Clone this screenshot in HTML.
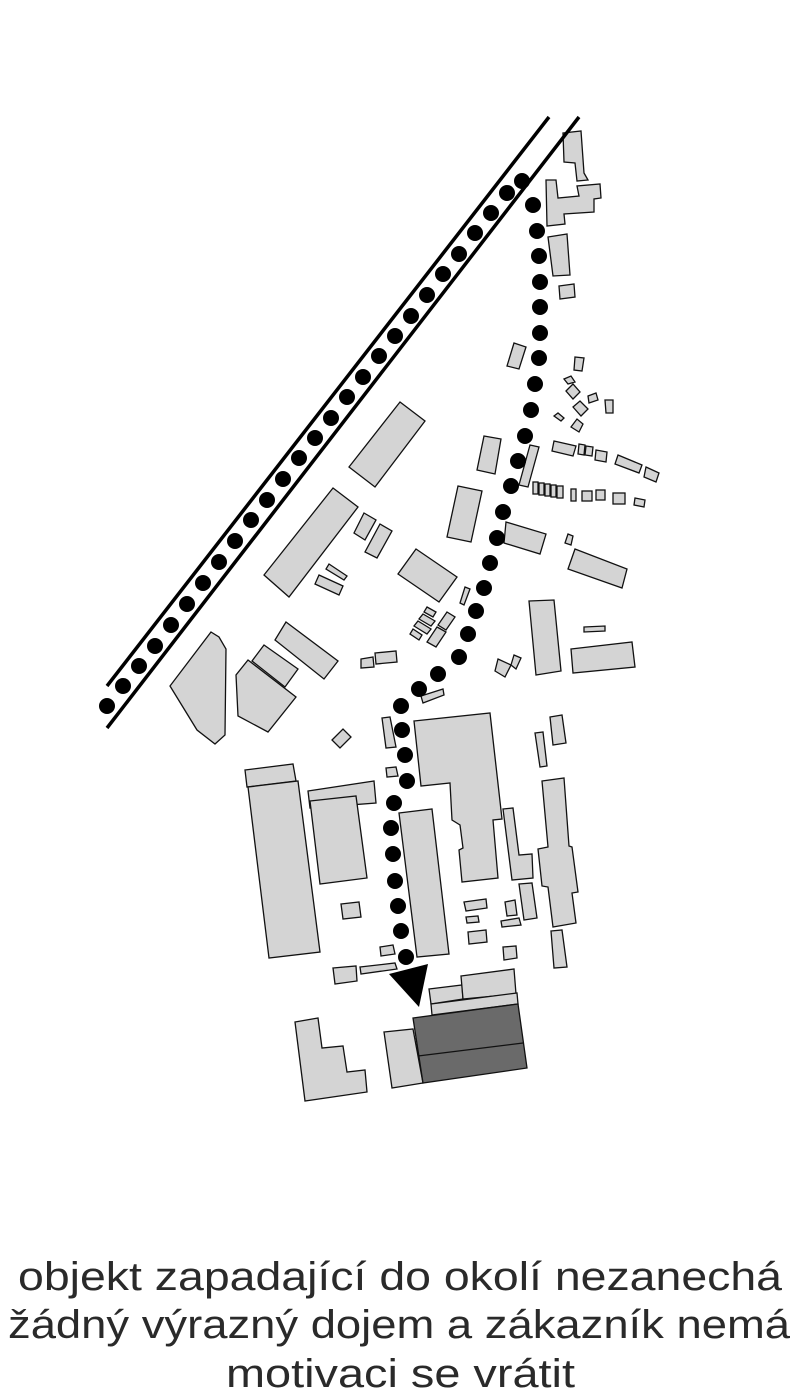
<!DOCTYPE html>
<html><head><meta charset="utf-8"><style>
html,body{margin:0;padding:0;background:#fff;}
svg{display:block;}
</style></head><body>
<svg width="800" height="1397" viewBox="0 0 800 1397" xmlns="http://www.w3.org/2000/svg">
<g fill="#d4d4d4" stroke="#111" stroke-width="1.3" stroke-linejoin="miter">
<polygon points="563,133 581,131 584,173 588,180 577,181 575,163 564,162"/>
<polygon points="546,180 556,180 558,198 579,196 577,186 600,184 601,198 594,199 594,212 564,214 565,224 547,226"/>
<polygon points="548,237 567,234 570,275 553,276"/>
<polygon points="559,286 574,284 575,297 560,299"/>
<polygon points="514,343 526,347 519,369 507,366"/>
<polygon points="575,357 584,358 582,371 574,370"/>
<polygon points="564,379 571,376 575,382 568,384"/>
<polygon points="566,391 573,384 580,392 573,399"/>
<polygon points="588,396 596,393 598,400 589,403"/>
<polygon points="605,400 613,400 613,413 606,413"/>
<polygon points="573,407 580,401 588,409 581,416"/>
<polygon points="554,416 558,413 564,418 561,421"/>
<polygon points="571,427 577,419 583,424 579,432"/>
<polygon points="400,402 425,421 375,487 349,467"/>
<polygon points="484,436 501,439 495,474 477,470"/>
<polygon points="530,445 539,447 528,487 519,485"/>
<polygon points="554,441 576,446 573,456 552,451"/>
<polygon points="579,444 585,445 584,455 578,454"/>
<polygon points="586,446 593,447 592,456 585,455"/>
<polygon points="596,450 607,452 606,462 595,460"/>
<polygon points="618,455 642,465 639,473 615,464"/>
<polygon points="646,467 659,473 656,482 644,477"/>
<rect x="533" y="482" width="5" height="12"/><rect x="539" y="483" width="5" height="12"/><rect x="545" y="484" width="5" height="12"/><rect x="551" y="485" width="5" height="12"/><rect x="557" y="486" width="6" height="12"/>
<rect x="571" y="489" width="5" height="12"/>
<rect x="582" y="491" width="10" height="10"/>
<rect x="596" y="490" width="9" height="10"/>
<rect x="613" y="493" width="12" height="11"/>
<polygon points="635,498 645,500 644,507 634,505"/>
<polygon points="458,486 482,491 471,542 447,537"/>
<polygon points="506,522 546,534 540,554 504,543"/>
<polygon points="568,534 573,536 571,545 565,543"/>
<polygon points="575,549 627,569 622,588 568,569"/>
<polygon points="333,488 358,507 289,597 264,575"/>
<polygon points="364,513 376,520 365,540 354,533"/>
<polygon points="380,524 392,531 377,558 365,552"/>
<polygon points="329,564 347,576 344,580 326,569"/>
<polygon points="319,575 343,586 339,595 315,584"/>
<polygon points="416,549 457,577 439,602 398,574"/>
<polygon points="465,587 470,589 464,605 460,603"/>
<polygon points="427,607 436,612 433,617 424,612"/>
<polygon points="423,614 435,621 431,626 419,619"/>
<polygon points="418,621 431,629 427,634 414,626"/>
<polygon points="413,629 422,635 419,640 410,634"/>
<polygon points="447,612 455,617 446,630 438,625"/>
<polygon points="437,627 446,632 436,647 427,642"/>
<polygon points="529,601 554,600 561,671 536,675"/>
<polygon points="584,627 605,626 605,631 584,632"/>
<polygon points="571,649 632,642 635,667 573,673"/>
<polygon points="498,659 511,665 505,677 495,671"/>
<polygon points="514,655 521,658 516,669 511,665"/>
<polygon points="375,653 396,651 397,662 376,664"/>
<polygon points="361,659 373,657 374,667 361,668"/>
<polygon points="421,696 443,689 444,695 423,703"/>
<polygon points="286,622 338,661 324,679 275,640"/>
<polygon points="264,645 298,669 285,687 252,661"/>
<polygon points="248,660 296,697 268,732 238,716 236,675"/>
<polygon points="211,632 219,637 226,649 225,735 215,744 197,730 170,686"/>
<polygon points="332,740 343,729 351,737 340,748"/>
<polygon points="382,718 390,717 396,747 386,748"/>
<polygon points="386,768 396,767 398,776 387,777"/>
<polygon points="414,721 490,713 502,819 493,820 498,878 462,882 459,850 463,848 460,825 452,820 450,783 421,786"/>
<polygon points="503,809 513,808 519,855 532,854 533,878 512,880"/>
<polygon points="535,733 543,732 547,766 540,767"/>
<polygon points="550,717 562,715 566,743 553,745"/>
<polygon points="542,781 564,778 569,846 572,847 578,892 572,893 576,923 553,927 548,887 542,886 538,849 548,847"/>
<polygon points="519,884 532,883 537,918 524,920"/>
<polygon points="551,931 562,930 567,967 554,968"/>
<polygon points="245,770 293,764 296,781 247,787"/>
<polygon points="248,787 298,781 320,952 269,958"/>
<polygon points="308,791 374,781 376,803 310,808"/>
<polygon points="310,801 356,796 367,878 320,884"/>
<polygon points="341,904 359,902 361,917 343,919"/>
<polygon points="399,813 432,809 449,954 417,957"/>
<polygon points="464,902 486,899 487,908 466,911"/>
<polygon points="466,917 478,916 479,922 467,923"/>
<polygon points="468,932 486,930 487,942 469,944"/>
<polygon points="505,902 515,900 517,915 507,916"/>
<polygon points="501,921 519,918 521,925 502,927"/>
<polygon points="503,947 516,946 517,958 504,960"/>
<polygon points="380,947 393,945 395,954 381,956"/>
<polygon points="333,968 356,966 357,981 335,984"/>
<polygon points="360,967 395,963 397,969 361,974"/>
<polygon points="429,989 462,985 463,999 431,1004"/>
<polygon points="461,976 514,969 516,994 463,999"/>
<polygon points="431,1004 517,993 518,1004 432,1015"/>
<polygon points="384,1032 413,1029 423,1083 392,1088"/>
<polygon points="295,1022 318,1018 322,1048 343,1046 347,1072 365,1070 367,1092 305,1101"/>
<polygon points="413,1018 518,1004 527,1068 423,1083" fill="#6a6a6a"/>
<line x1="418" y1="1056" x2="523" y2="1043"/>
</g>
<g stroke="#000" stroke-width="3.5">
<line x1="549" y1="117" x2="107" y2="686"/>
<line x1="579" y1="117" x2="107" y2="728"/>
</g>
<polygon points="389,974 428,964 419,1007" fill="#000"/>
<g font-family="'Liberation Sans', 'DejaVu Sans', sans-serif" font-size="40" fill="#2a2a2a" font-weight="normal">
<text x="18" y="1290" textLength="764" lengthAdjust="spacingAndGlyphs">objekt zapadající do okolí nezanechá</text>
<text x="8" y="1338" textLength="782" lengthAdjust="spacingAndGlyphs">žádný výrazný dojem a zákazník nemá</text>
<text x="226" y="1387" textLength="349" lengthAdjust="spacingAndGlyphs">motivaci se vrátit</text>
</g>
<g fill="#000">
<circle cx="107" cy="706" r="8"/><circle cx="123" cy="686" r="8"/><circle cx="139" cy="666" r="8"/><circle cx="155" cy="646" r="8"/><circle cx="171" cy="625" r="8"/><circle cx="187" cy="604" r="8"/><circle cx="203" cy="583" r="8"/><circle cx="219" cy="562" r="8"/><circle cx="235" cy="541" r="8"/><circle cx="251" cy="520" r="8"/><circle cx="267" cy="500" r="8"/><circle cx="283" cy="479" r="8"/><circle cx="299" cy="458" r="8"/><circle cx="315" cy="438" r="8"/><circle cx="331" cy="418" r="8"/><circle cx="347" cy="397" r="8"/><circle cx="363" cy="377" r="8"/><circle cx="379" cy="356" r="8"/><circle cx="395" cy="336" r="8"/><circle cx="411" cy="316" r="8"/><circle cx="427" cy="295" r="8"/><circle cx="443" cy="274" r="8"/><circle cx="459" cy="254" r="8"/><circle cx="475" cy="233" r="8"/><circle cx="491" cy="213" r="8"/><circle cx="507" cy="193" r="8"/><circle cx="522" cy="181" r="8"/>
<circle cx="533" cy="205" r="8"/><circle cx="537" cy="231" r="8"/><circle cx="539" cy="256" r="8"/><circle cx="540" cy="282" r="8"/><circle cx="540" cy="307" r="8"/><circle cx="540" cy="333" r="8"/><circle cx="539" cy="358" r="8"/><circle cx="535" cy="384" r="8"/><circle cx="531" cy="410" r="8"/><circle cx="525" cy="436" r="8"/><circle cx="518" cy="461" r="8"/><circle cx="511" cy="486" r="8"/><circle cx="503" cy="512" r="8"/><circle cx="497" cy="538" r="8"/><circle cx="490" cy="563" r="8"/><circle cx="484" cy="588" r="8"/><circle cx="476" cy="611" r="8"/><circle cx="468" cy="634" r="8"/><circle cx="459" cy="657" r="8"/><circle cx="438" cy="674" r="8"/><circle cx="419" cy="689" r="8"/><circle cx="401" cy="706" r="8"/><circle cx="402" cy="730" r="8"/><circle cx="405" cy="755" r="8"/><circle cx="407" cy="781" r="8"/><circle cx="394" cy="803" r="8"/><circle cx="391" cy="828" r="8"/><circle cx="393" cy="854" r="8"/><circle cx="395" cy="881" r="8"/><circle cx="398" cy="906" r="8"/><circle cx="401" cy="931" r="8"/><circle cx="406" cy="957" r="8"/>
</g>
</svg>
</body></html>
